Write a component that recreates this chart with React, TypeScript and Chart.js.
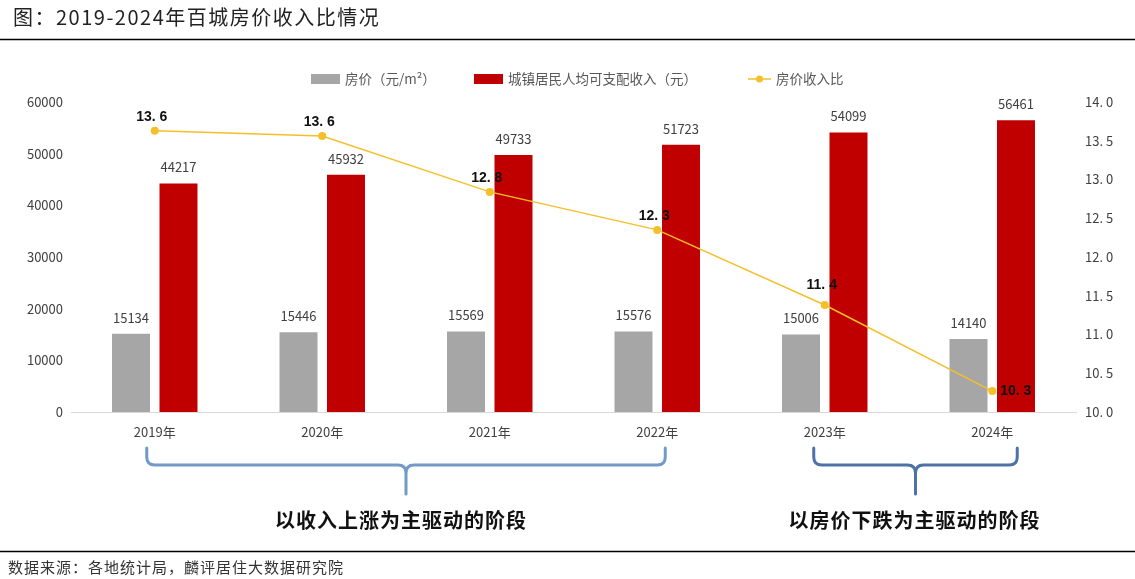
import { useEffect, useRef } from "react"
import { Chart, registerables } from "chart.js"

Chart.register(...registerables)

const categories = ["2019年", "2020年", "2021年", "2022年", "2023年", "2024年"]
const housePrice = [15134, 15446, 15569, 15576, 15006, 14140]
const income = [44217, 45932, 49733, 51723, 54099, 56461]
const ratio = [13.63, 13.56, 12.84, 12.35, 11.38, 10.27]
const ratioLabels = ["13.6", "13.6", "12.8", "12.3", "11.4", "10.3"]
const seriesNames = ["房价（元/m²）", "城镇居民人均可支配收入（元）", "房价收入比"]

const GRAY = "#a6a6a6"
const RED = "#c00000"
const YELLOW = "#f5bf2a"
const CJK = '"Noto Sans CJK SC", "Noto Sans", sans-serif'

const spaced = (s: string) => s.replace(".", ". ")

// 标题、图例、括号、数据来源都画在画布上
const decorPlugin = {
  id: "decor",
  afterDraw(chart: any) {
    const ctx = chart.ctx
    const w = chart.width
    ctx.save()

    // 标题
    ctx.fillStyle = "#222"
    ctx.font = `20px ${CJK}`
    ctx.textBaseline = "middle"
    ctx.textAlign = "left"
    ctx.letterSpacing = "1.5px"
    ctx.fillText("图：2019-2024年百城房价收入比情况", 13, 17)
    ctx.letterSpacing = "0px"
    ctx.strokeStyle = "#000"
    ctx.lineWidth = 1.5
    ctx.beginPath()
    ctx.moveTo(0, 39.5)
    ctx.lineTo(w, 39.5)
    ctx.stroke()

    // 图例
    ctx.font = `13.5px ${CJK}`
    ctx.fillStyle = GRAY
    ctx.fillRect(311, 74, 29, 10)
    ctx.fillStyle = "#595959"
    ctx.fillText(seriesNames[0], 345, 79)
    ctx.fillStyle = RED
    ctx.fillRect(474, 74, 29, 10)
    ctx.fillStyle = "#595959"
    ctx.fillText(seriesNames[1], 508, 79)
    ctx.strokeStyle = YELLOW
    ctx.lineWidth = 1.5
    ctx.beginPath()
    ctx.moveTo(748, 79)
    ctx.lineTo(771, 79)
    ctx.stroke()
    ctx.fillStyle = YELLOW
    ctx.beginPath()
    ctx.arc(759.5, 79, 3.5, 0, Math.PI * 2)
    ctx.fill()
    ctx.fillStyle = "#595959"
    ctx.fillText(seriesNames[2], 776, 79)

    // 括号
    const x = chart.scales.x
    const brace = (x1: number, x2: number, color: string) => {
      const top = 448
      const h = 465
      const bottom = 494
      const r = 8
      const cx = (x1 + x2) / 2
      ctx.strokeStyle = color
      ctx.lineWidth = 3
      ctx.lineCap = "round"
      ctx.beginPath()
      ctx.moveTo(x1, top)
      ctx.lineTo(x1, h - r)
      ctx.quadraticCurveTo(x1, h, x1 + r, h)
      ctx.lineTo(cx - r, h)
      ctx.quadraticCurveTo(cx, h, cx, h + r)
      ctx.lineTo(cx, bottom)
      ctx.moveTo(x2, top)
      ctx.lineTo(x2, h - r)
      ctx.quadraticCurveTo(x2, h, x2 - r, h)
      ctx.lineTo(cx + r, h)
      ctx.quadraticCurveTo(cx, h, cx, h + r)
      ctx.stroke()
      return cx
    }
    const c1 = brace(x.getPixelForValue(0) - 8, x.getPixelForValue(3) + 8, "#7399c6")
    const c2 = brace(x.getPixelForValue(4) - 11, x.getPixelForValue(5) + 25, "#4e72a8")

    ctx.fillStyle = "#111"
    ctx.font = `bold 20px ${CJK}`
    ctx.textAlign = "center"
    ctx.letterSpacing = "1px"
    ctx.fillText("以收入上涨为主驱动的阶段", c1 - 5, 520)
    ctx.fillText("以房价下跌为主驱动的阶段", c2 - 1, 520)
    ctx.letterSpacing = "0px"

    // 数据来源
    ctx.strokeStyle = "#000"
    ctx.lineWidth = 1.5
    ctx.beginPath()
    ctx.moveTo(0, 551.5)
    ctx.lineTo(w, 551.5)
    ctx.stroke()
    ctx.fillStyle = "#333"
    ctx.font = `15px ${CJK}`
    ctx.textAlign = "left"
    ctx.letterSpacing = "1px"
    ctx.fillText("数据来源：各地统计局，麟评居住大数据研究院", 8, 567)
    ctx.letterSpacing = "0px"

    ctx.restore()
  },
  afterDatasetsDraw(chart: any) {
    const ctx = chart.ctx
    ctx.save()
    // 柱子数值
    ctx.font = `13px ${CJK}`
    ctx.fillStyle = "#404040"
    ctx.textAlign = "center"
    ctx.textBaseline = "middle"
    ;[0, 1].forEach((di) => {
      const meta = chart.getDatasetMeta(di)
      meta.data.forEach((bar: any, i: number) => {
        ctx.fillText(String(chart.data.datasets[di].data[i]), bar.x, bar.y - 16)
      })
    })
    // 折线数值
    ctx.font = "bold 14px 'Liberation Sans', Arial, sans-serif"
    ctx.fillStyle = "#111"
    const meta = chart.getDatasetMeta(2)
    meta.data.forEach((pt: any, i: number) => {
      const txt = spaced(ratioLabels[i])
      if (i === meta.data.length - 1) {
        ctx.textAlign = "left"
        ctx.fillText(txt, pt.x + 8, pt.y)
      } else {
        ctx.textAlign = "center"
        ctx.fillText(txt, pt.x - 3, pt.y - (i === 4 ? 20 : 14))
      }
    })
    ctx.restore()
  },
}

export default function App() {
  const chartRef = useRef<HTMLCanvasElement>(null)
  const chartInstance = useRef<Chart | null>(null)

  useEffect(() => {
    if (!chartRef.current) return
    if (chartInstance.current) chartInstance.current.destroy()
    const ctx = chartRef.current.getContext("2d")
    if (!ctx) return

    chartInstance.current = new Chart(ctx, {
      type: "bar",
      data: {
        labels: categories,
        datasets: [
          {
            label: seriesNames[0],
            data: housePrice,
            backgroundColor: GRAY,
            yAxisID: "y",
            categoryPercentage: 0.567,
            barPercentage: 0.8,
            order: 2,
          },
          {
            label: seriesNames[1],
            data: income,
            backgroundColor: RED,
            yAxisID: "y",
            categoryPercentage: 0.567,
            barPercentage: 0.8,
            order: 2,
          },
          {
            type: "line",
            label: seriesNames[2],
            data: ratio,
            borderColor: YELLOW,
            backgroundColor: YELLOW,
            borderWidth: 1.5,
            pointRadius: 4,
            pointBorderWidth: 0,
            yAxisID: "y1",
            order: 1,
          } as any,
        ],
      },
      options: {
        animation: false,
        responsive: true,
        maintainAspectRatio: false,
        layout: { padding: { top: 102, left: 0, right: 0, bottom: 0 } },
        plugins: {
          legend: { display: false },
          tooltip: { enabled: false },
        },
        scales: {
          x: {
            grid: { display: false, drawTicks: false },
            border: { display: true, color: "#d9d9d9", width: 1 },
            ticks: { color: "#404040", font: { size: 13, family: CJK }, padding: 12 },
            afterFit: (s: any) => {
              s.height = 167
            },
          },
          y: {
            position: "left",
            min: 0,
            max: 60000,
            grid: { display: false, drawTicks: false },
            border: { display: false },
            ticks: {
              stepSize: 10000,
              color: "#404040",
              font: { size: 13, family: CJK },
              padding: 8,
              callback: (v: any) => String(v),
            },
            afterFit: (s: any) => {
              s.width = 71
            },
          },
          y1: {
            position: "right",
            min: 10,
            max: 14,
            grid: { display: false, drawTicks: false },
            border: { display: false },
            ticks: {
              stepSize: 0.5,
              color: "#404040",
              font: { size: 13, family: CJK },
              padding: 9,
              callback: (v: any) => spaced(Number(v).toFixed(1)),
            },
            afterFit: (s: any) => {
              s.width = 59
            },
          },
        },
      },
      plugins: [decorPlugin],
    })

    return () => {
      if (chartInstance.current) {
        chartInstance.current.destroy()
        chartInstance.current = null
      }
    }
  }, [])

  return (
    <div style={{ position: "fixed", left: 0, top: 0, width: 1135, height: 579, background: "#fff" }}>
      <canvas ref={chartRef} />
    </div>
  )
}
